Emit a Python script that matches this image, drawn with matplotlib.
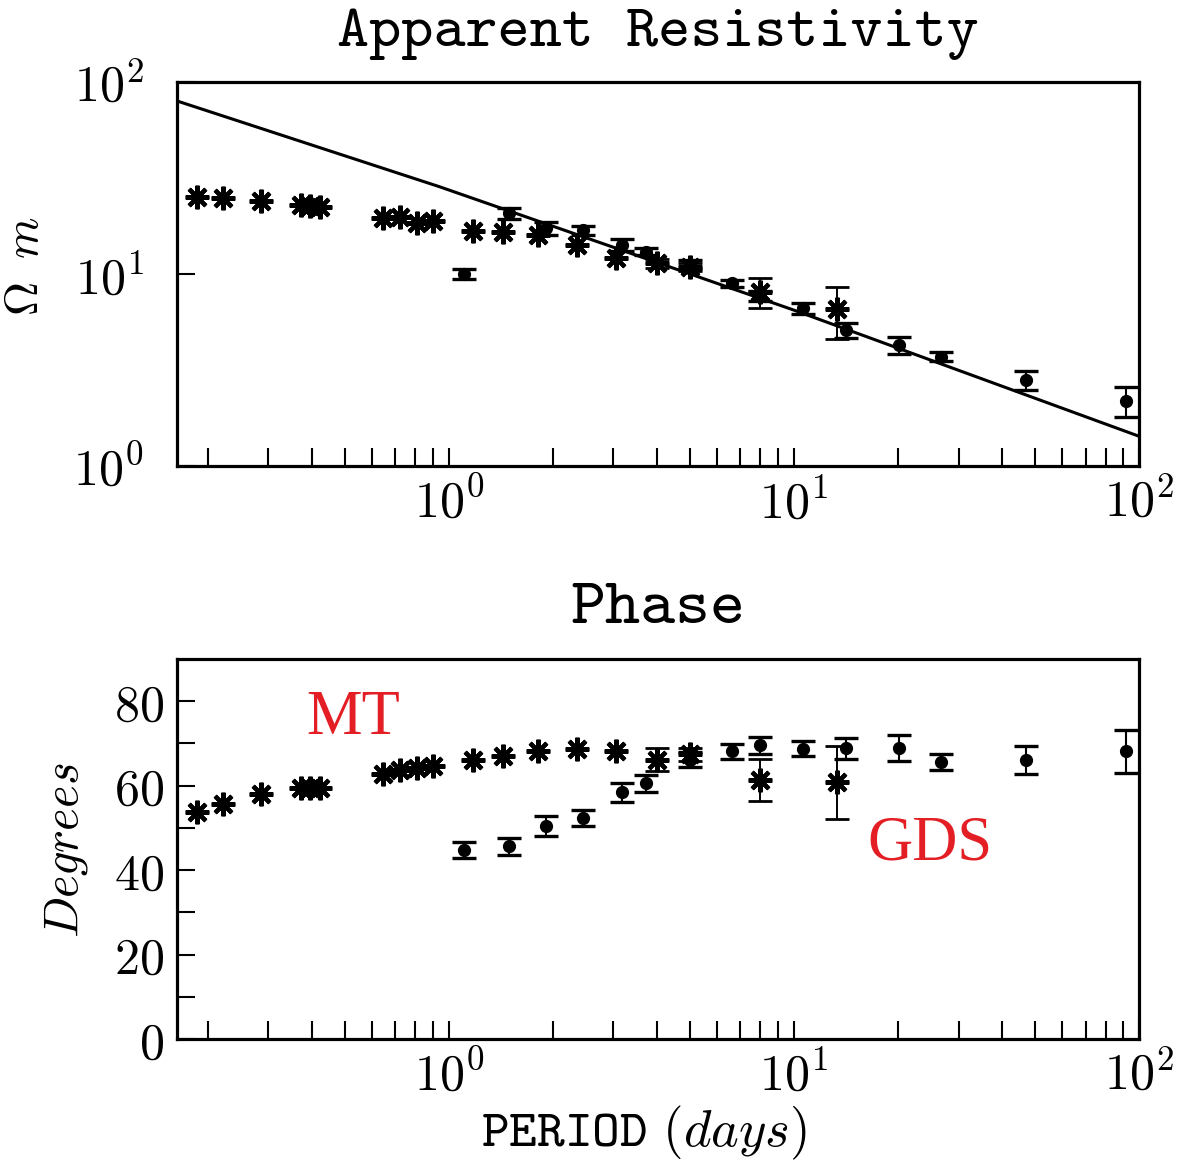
import numpy as np
import matplotlib
matplotlib.use("Agg")
import matplotlib.pyplot as plt
from matplotlib.ticker import FixedLocator, NullLocator, NullFormatter

plt.rcParams["mathtext.fontset"] = "cm"
plt.rcParams["font.family"] = "serif"

# MT (magnetotelluric) estimates, stars
mt_period = [0.186, 0.222, 0.286, 0.374, 0.396, 0.423, 0.645, 0.721, 0.806, 0.901,
             1.176, 1.436, 1.815, 2.345, 3.06, 4.02, 5.0, 7.97, 13.3]
mt_rho = [25.1, 24.8, 24.1, 23.0, 22.6, 22.3, 19.6, 19.8, 18.5, 18.8,
          16.7, 16.6, 16.0, 14.2, 12.1, 11.4, 10.9, 8.08, 6.55]
mt_rho_err = [0, 0, 0, 0, 0, 0, 0, 0, 0, 0,
              0, 0, 0, 0, 0, 0.6, 0.5, 1.45, 1.98]
mt_phase = [53.8, 55.6, 58.0, 59.4, 59.4, 59.4, 62.7, 63.8, 64.1, 64.6,
            66.2, 67.0, 68.1, 68.8, 68.3, 66.2, 67.4, 61.3, 60.8]
mt_phase_err = [0, 0, 0, 0, 0, 0, 0, 0, 0, 0,
                0, 0, 0, 0, 0, 2.8, 1.5, 5.0, 8.7]

# GDS (geomagnetic depth sounding) estimates, dots
gds_period = [1.11, 1.49, 1.91, 2.45, 3.17, 3.72, 5.0, 6.6, 7.97, 10.6,
              14.2, 20.1, 26.7, 47.2, 91.5]
gds_rho = [10.0, 20.7, 17.3, 16.9, 14.2, 13.1, 11.2, 8.95, 7.7, 6.63,
           5.11, 4.27, 3.71, 2.80, 2.19]
gds_rho_err = [0.6, 1.3, 1.4, 1.0, 0.95, 0.6, 0.6, 0.4, 0.5, 0.4,
               0.45, 0.44, 0.2, 0.32, 0.38]
gds_phase = [44.8, 45.6, 50.5, 52.3, 58.4, 60.6, 66.2, 68.1, 69.6, 68.8,
             68.9, 68.9, 65.6, 66.0, 68.1]
gds_phase_err = [1.9, 2.0, 2.4, 1.9, 2.3, 2.0, 1.8, 1.7, 2.0, 1.8,
                 2.5, 3.0, 1.9, 3.3, 5.2]

# model curve for apparent resistivity
model_period = [0.166, 0.94, 10.0, 100.0]
model_rho = [78.9, 28.5, 6.49, 1.43]

x_major = [1, 10, 100]
x_labels = [r"$10^0$", r"$10^1$", r"$10^2$"]
rho_ticks = [1, 10, 100]
rho_labels = [r"$10^0$", r"$10^1$", r"$10^2$"]
phase_ticks = [0, 20, 40, 60, 80]
phase_minor = [10, 30, 50, 70]

STAR = dict(marker=(8, 2, 0), ms=17, mew=3.0, color="k", ls="none")
DOT = dict(fmt="o", ms=8.5, color="k", capsize=8.5, capthick=2.4, elinewidth=1.5)

fig = plt.figure(figsize=(11.91, 11.66), dpi=100)
ax1 = fig.add_axes([0.1486, 0.6003, 0.8077, 0.3293])
ax2 = fig.add_axes([0.1486, 0.1089, 0.8077, 0.3259])


def draw_mt(ax, y, yerr):
    y = np.array(y)
    yerr = np.array(yerr)
    x = np.array(mt_period)
    ax.plot(x, y, **STAR)
    m = yerr > 0
    ax.errorbar(x[m], y[m], yerr=yerr[m], fmt="none", ecolor="k",
                capsize=8.5, capthick=2.0, elinewidth=1.4)


def style_axis(ax):
    ax.set_xscale("log")
    ax.set_xlim(0.163, 100)
    ax.xaxis.set_major_locator(FixedLocator(x_major))
    ax.set_xticklabels(x_labels)
    ax.xaxis.set_minor_locator(FixedLocator(
        [m * 10.0 ** e for e in (-1, 0, 1) for m in range(2, 10)]))
    ax.xaxis.set_minor_formatter(NullFormatter())
    ax.tick_params(which="both", direction="in", top=False, right=False,
                   length=13, width=1.5, labelsize=36, pad=9)
    for s in ax.spines.values():
        s.set_linewidth(2.3)


# Apparent resistivity
ax1.plot(model_period, model_rho, color="k", lw=2.2)
draw_mt(ax1, mt_rho, mt_rho_err)
ax1.errorbar(gds_period, gds_rho, yerr=gds_rho_err, **DOT)
ax1.set_yscale("log")
ax1.set_ylim(1, 100)
style_axis(ax1)
ax1.yaxis.set_major_locator(FixedLocator(rho_ticks))
ax1.set_yticklabels(rho_labels)
ax1.yaxis.set_minor_locator(NullLocator())
ax1.tick_params(axis="y", pad=24)
ax1.set_title("Apparent Resistivity", family="cmtt10", fontsize=44, pad=26)

# Phase
draw_mt(ax2, mt_phase, mt_phase_err)
ax2.errorbar(gds_period, gds_phase, yerr=gds_phase_err, **DOT)
ax2.set_ylim(0, 90)
style_axis(ax2)
ax2.yaxis.set_major_locator(FixedLocator(phase_ticks))
ax2.set_yticklabels([r"$%d$" % t for t in phase_ticks])
ax2.yaxis.set_minor_locator(FixedLocator(phase_minor))
ax2.set_title("Phase", family="cmtt10", fontsize=48, pad=26)

ax2.text(0.527, 75.9, "MT", color="#e31e24", fontsize=45,
         family="Liberation Serif", ha="center", va="center")
ax2.text(24.8, 46.1, "GDS", color="#e31e24", fontsize=45,
         family="Liberation Serif", ha="center", va="center")

# axis labels placed at figure pixel positions
W, H = 1191, 1166
fig.text(25 / W, 1 - 266 / H, r"$\Omega\;\;m$", fontsize=34, rotation=90,
         ha="center", va="center")
fig.text(66 / W, 1 - 850 / H, r"$\mathit{Degrees}$", fontsize=35, rotation=90,
         ha="center", va="center")
fig.text(644 / W, 1 - 1133 / H, r"$\mathtt{PERIOD}\ (\mathit{days})$",
         fontsize=38, ha="center", va="center")

fig.savefig("out.png", dpi=100)
